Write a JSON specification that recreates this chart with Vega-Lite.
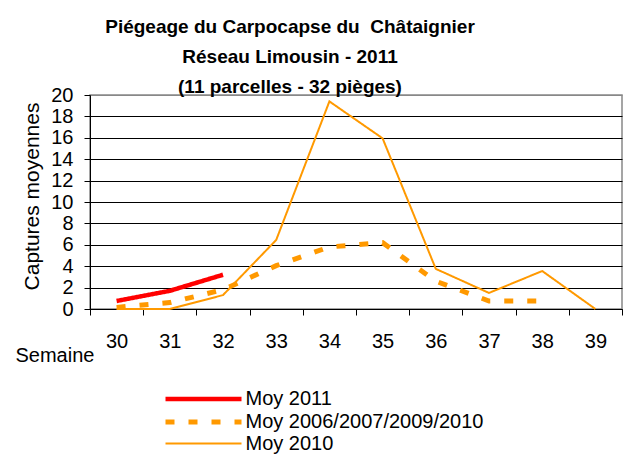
{
  "$schema": "https://vega.github.io/schema/vega-lite/v6.json",
  "autosize": "none",
  "width": 532,
  "height": 214,
  "padding": {"left": 90, "top": 95, "right": 4, "bottom": 159},
  "background": "white",
  "title": {
    "text": ["Piégeage du Carpocapse du \u00a0Châtaignier", "Réseau Limousin - 2011", "(11 parcelles - 32 pièges)"],
    "font": "Liberation Sans",
    "fontSize": 19,
    "fontWeight": "bold",
    "color": "black",
    "lineHeight": 30,
    "anchor": "middle",
    "baseline": "bottom",
    "offset": 0,
    "dx": -66,
    "dy": 31
  },
  "data": {
    "values": [
      {"semaine": "30", "series": "Moy 2011", "v": 0.75},
      {"semaine": "31", "series": "Moy 2011", "v": 1.7},
      {"semaine": "32", "series": "Moy 2011", "v": 3.2},
      {"semaine": "30", "series": "Moy 2006/2007/2009/2010", "v": 0.15},
      {"semaine": "31", "series": "Moy 2006/2007/2009/2010", "v": 0.6},
      {"semaine": "32", "series": "Moy 2006/2007/2009/2010", "v": 1.8},
      {"semaine": "33", "series": "Moy 2006/2007/2009/2010", "v": 4.05},
      {"semaine": "34", "series": "Moy 2006/2007/2009/2010", "v": 5.8},
      {"semaine": "35", "series": "Moy 2006/2007/2009/2010", "v": 6.2},
      {"semaine": "36", "series": "Moy 2006/2007/2009/2010", "v": 2.6},
      {"semaine": "37", "series": "Moy 2006/2007/2009/2010", "v": 0.75},
      {"semaine": "38", "series": "Moy 2006/2007/2009/2010", "v": 0.75},
      {"semaine": "30", "series": "Moy 2010", "v": 0},
      {"semaine": "31", "series": "Moy 2010", "v": 0},
      {"semaine": "32", "series": "Moy 2010", "v": 1.3},
      {"semaine": "33", "series": "Moy 2010", "v": 6.45},
      {"semaine": "34", "series": "Moy 2010", "v": 19.4},
      {"semaine": "35", "series": "Moy 2010", "v": 15.95},
      {"semaine": "36", "series": "Moy 2010", "v": 3.75},
      {"semaine": "37", "series": "Moy 2010", "v": 1.5},
      {"semaine": "38", "series": "Moy 2010", "v": 3.55},
      {"semaine": "39", "series": "Moy 2010", "v": 0}
    ]
  },
  "mark": {"type": "line", "strokeCap": "butt", "strokeJoin": "miter"},
  "encoding": {
    "x": {
      "field": "semaine",
      "type": "ordinal",
      "sort": ["30", "31", "32", "33", "34", "35", "36", "37", "38", "39"],
      "scale": {"domain": ["30", "31", "32", "33", "34", "35", "36", "37", "38", "39"], "paddingInner": 0, "paddingOuter": 0},
      "axis": {
        "title": "Semaine",
        "titleFont": "Liberation Sans",
        "titleFontSize": 20,
        "titleFontWeight": "normal",
        "titleColor": "black",
        "titleAnchor": "start",
        "titleAlign": "left",
        "titleBaseline": "alphabetic",
        "titleX": -75,
        "titleY": 52,
        "labelAngle": 0,
        "labelFont": "Liberation Sans",
        "labelFontSize": 20,
        "labelColor": "black",
        "labelPadding": 16,
        "tickBand": "extent",
        "tickSize": 6,
        "tickColor": "black",
        "domainColor": "black",
        "grid": false
      }
    },
    "y": {
      "field": "v",
      "type": "quantitative",
      "scale": {"domain": [0, 20], "nice": false},
      "axis": {
        "title": "Captures moyennes",
        "titleFont": "Liberation Sans",
        "titleFontSize": 21,
        "titleFontWeight": "normal",
        "titleColor": "black",
        "titleAngle": -90,
        "titleX": -52,
        "titleY": 101,
        "titleAlign": "center",
        "titleBaseline": "alphabetic",
        "values": [0, 2, 4, 6, 8, 10, 12, 14, 16, 18, 20],
        "labelFont": "Liberation Sans",
        "labelFontSize": 20,
        "labelColor": "black",
        "labelPadding": 11,
        "tickSize": 6,
        "tickColor": "black",
        "domainColor": "black",
        "grid": true,
        "gridColor": {"condition": {"test": "datum.value == 20", "value": "#888888"}, "value": "black"},
        "gridOpacity": 1,
        "gridWidth": 1
      }
    },
    "color": {
      "field": "series",
      "type": "nominal",
      "scale": {"domain": ["Moy 2011", "Moy 2006/2007/2009/2010", "Moy 2010"], "range": ["#ff0000", "#ff9900", "#ff9900"]},
      "legend": {
        "title": null,
        "orient": "none",
        "legendX": 101.5,
        "legendY": 292,
        "padding": 0,
        "labelFont": "Liberation Sans",
        "labelFontSize": 20,
        "labelColor": "black",
        "labelLimit": 400,
        "labelOffset": 30,
        "rowPadding": 1,
        "symbolType": "M-4,0H4",
        "symbolSize": 361
      }
    },
    "strokeDash": {
      "field": "series",
      "type": "nominal",
      "scale": {"domain": ["Moy 2011", "Moy 2006/2007/2009/2010", "Moy 2010"], "range": [[1, 0], [9, 14], [1, 0]]},
      "legend": {
        "title": null,
        "orient": "none",
        "legendX": 101.5,
        "legendY": 292,
        "padding": 0,
        "labelFont": "Liberation Sans",
        "labelFontSize": 20,
        "labelColor": "black",
        "labelLimit": 400,
        "labelOffset": 30,
        "rowPadding": 1,
        "symbolType": "M-4,0H4",
        "symbolSize": 361
      }
    },
    "strokeWidth": {
      "field": "series",
      "type": "nominal",
      "scale": {"type": "ordinal", "domain": ["Moy 2011", "Moy 2006/2007/2009/2010", "Moy 2010"], "range": [4.5, 5, 2]},
      "legend": {
        "title": null,
        "orient": "none",
        "legendX": 101.5,
        "legendY": 292,
        "padding": 0,
        "labelFont": "Liberation Sans",
        "labelFontSize": 20,
        "labelColor": "black",
        "labelLimit": 400,
        "labelOffset": 30,
        "rowPadding": 1,
        "symbolType": "M-4,0H4",
        "symbolSize": 361
      }
    }
  },
  "config": {
    "view": {"stroke": "#888888", "strokeWidth": 1.5},
    "font": "Liberation Sans"
  }
}
